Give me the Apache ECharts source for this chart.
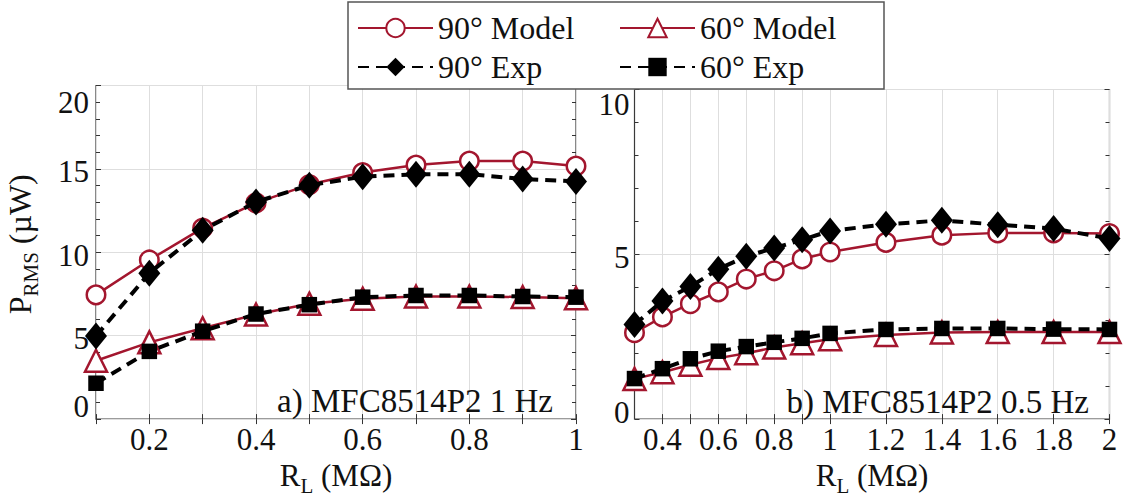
<!DOCTYPE html>
<html><head><meta charset="utf-8">
<script src="https://cdn.jsdelivr.net/npm/echarts@6/dist/echarts.min.js"></script>
<style>html,body{margin:0;padding:0;background:#fff}#c{width:1125px;height:501px}</style>
</head><body><div id="c"></div>
<script>
// ---------- data ----------
const leftX = [0.1, 0.2, 0.3, 0.4, 0.5, 0.6, 0.7, 0.8, 0.9, 1.0];
const left90Model = [7.45, 9.54, 11.45, 12.96, 14.06, 14.78, 15.23, 15.47, 15.47, 15.17];
const left90Exp   = [4.98, 8.75, 11.32, 13.02, 14.02, 14.53, 14.68, 14.68, 14.39, 14.25];
const left60Model = [3.5, 4.6, 5.45, 6.27, 6.92, 7.22, 7.35, 7.35, 7.32, 7.25];
const left60Exp   = [2.15, 4.06, 5.27, 6.3, 6.86, 7.31, 7.41, 7.41, 7.35, 7.31];

const rightX = [0.3, 0.4, 0.5, 0.6, 0.7, 0.8, 0.9, 1.0, 1.2, 1.4, 1.6, 1.8, 2.0];
const right90Model = [2.62, 3.1, 3.5, 3.86, 4.25, 4.5, 4.86, 5.07, 5.36, 5.58, 5.65, 5.65, 5.63];
const right90Exp   = [2.87, 3.58, 4.02, 4.55, 4.94, 5.19, 5.44, 5.71, 5.91, 6.03, 5.9, 5.78, 5.48];
const right60Model = [1.22, 1.42, 1.65, 1.85, 2.0, 2.17, 2.3, 2.42, 2.55, 2.63, 2.64, 2.64, 2.64];
const right60Exp   = [1.23, 1.53, 1.83, 2.06, 2.2, 2.33, 2.45, 2.6, 2.72, 2.75, 2.75, 2.73, 2.72];

const leftXTickLabels = [0.2, 0.4, 0.6, 0.8, 1];
const leftYTickLabels = [0, 5, 10, 15, 20];
const rightXTicks = [0.4, 0.5, 0.6, 0.7, 0.8, 0.9, 1, 1.2, 1.4, 1.6, 1.8, 2];
const rightXTickLabels = [0.4, 0.6, 0.8, 1, 1.2, 1.4, 1.6, 1.8, 2];
const rightYTickLabels = [0, 5, 10];

const seriesNames = ['90° Model', '60° Model', '90° Exp', '60° Exp'];
const panelLabels = ['a) MFC8514P2 1 Hz', 'b) MFC8514P2 0.5 Hz'];

// ---------- styles ----------
const FONT = "'Liberation Serif', 'Times New Roman', 'DejaVu Serif', serif";
const INK = '#111';
const RED = '#A3162E';
const BOX = '#3a3a3a';
const GRIDC = '#dedede';
const TICK = { show: true, inside: true, length: 5, lineStyle: { color: '#333', width: 1 } };
const MINOR = { show: true, splitNumber: 5, length: 4, lineStyle: { color: '#333', width: 1 } };

const pair = (xs, ys) => xs.map((x, i) => [x, ys[i]]);

function nameRich(size, sub) {
  return {
    n: { fontSize: size, fontFamily: FONT, color: INK, verticalAlign: 'bottom', padding: [0, 0, 5, 0] },
    p: { fontSize: size, fontFamily: FONT, color: INK, verticalAlign: 'bottom', padding: [0, 0, 5, 16] },
    s: { fontSize: sub, fontFamily: FONT, color: INK, verticalAlign: 'bottom' }
  };
}

function yLabel(lo, hi, padLo, padHi, vals, margin) {
  return {
    customValues: vals,
    margin: margin,
    formatter: v => v === lo ? '{lo|' + v + '}' : (v === hi ? '{hi|' + v + '}' : '{m|' + v + '}'),
    rich: {
      m: { fontSize: 31, fontFamily: FONT, color: INK, padding: [6, 0, 0, 0] },
      lo: { fontSize: 31, fontFamily: FONT, color: INK, padding: [0, 0, padLo, 0] },
      hi: { fontSize: 31, fontFamily: FONT, color: INK, padding: [padHi, 0, 0, 0] }
    }
  };
}

const xLab = vals => ({ customValues: vals, margin: 5, fontSize: 31, fontFamily: FONT, color: INK,
  formatter: v => String(+(+v).toFixed(2)), showMinLabel: true, showMaxLabel: true });

const off = { show: false };

const grids = [
  { left: 96, top: 85.5, width: 480, height: 341.5 },
  { left: 634.5, top: 89.5, width: 475, height: 337 }
].map(g => Object.assign(g, { show: true, borderColor: BOX, borderWidth: 1.2, backgroundColor: 'rgba(0,0,0,0)' }));

const xName = '{n|R}{s|L}{n| (MΩ)}';
const yName = '{p|P}{s|RMS}{n| (µW)}';

const xAxis = [
  { gridIndex: 0, type: 'value', min: 0.1, max: 1, interval: 0.1, position: 'bottom',
    axisLine: off, axisTick: TICK, axisLabel: xLab(leftXTickLabels),
    splitLine: { show: true, lineStyle: { color: GRIDC, width: 1 } },
    name: xName, nameLocation: 'middle', nameGap: 40, nameTextStyle: { rich: nameRich(31, 21) } },
  { gridIndex: 0, type: 'value', min: 0.1, max: 1, interval: 0.1, position: 'top',
    axisLine: off, axisTick: TICK, axisLabel: off, splitLine: off },
  { gridIndex: 1, type: 'value', min: 0.3, max: 2, position: 'bottom',
    axisLine: off, axisTick: Object.assign({ customValues: rightXTicks }, TICK), axisLabel: xLab(rightXTickLabels),
    splitLine: { show: true, customValues: rightXTicks, lineStyle: { color: GRIDC, width: 1 } },
    name: xName, nameLocation: 'middle', nameGap: 39, nameTextStyle: { rich: nameRich(31, 21) } },
  { gridIndex: 1, type: 'value', min: 0.3, max: 2, position: 'top',
    axisLine: off, axisTick: Object.assign({ customValues: rightXTicks }, TICK), axisLabel: off, splitLine: off }
];

const yAxis = [
  { gridIndex: 0, type: 'value', min: 0, max: 20, interval: 5, position: 'left',
    axisLine: off, axisTick: TICK, minorTick: MINOR, axisLabel: yLabel(0, 20, 26, 34, leftYTickLabels, 7),
    splitLine: { show: true, lineStyle: { color: GRIDC, width: 1 } },
    name: yName, nameLocation: 'middle', nameRotate: 90, nameGap: 55, nameTextStyle: { rich: nameRich(32, 21) } },
  { gridIndex: 0, type: 'value', min: 0, max: 20, interval: 5, position: 'right',
    axisLine: off, axisTick: TICK, minorTick: MINOR, axisLabel: off, splitLine: off },
  { gridIndex: 1, type: 'value', min: 0, max: 10, interval: 5, position: 'left',
    axisLine: off, axisTick: TICK, minorTick: MINOR, axisLabel: yLabel(0, 10, 14, 30, rightYTickLabels, 5),
    splitLine: { show: true, lineStyle: { color: GRIDC, width: 1 } } },
  { gridIndex: 1, type: 'value', min: 0, max: 10, interval: 5, position: 'right',
    axisLine: off, axisTick: TICK, minorTick: MINOR, axisLabel: off, splitLine: off }
];

function modelSeries(name, ai, data, symbol, size) {
  return { name, type: 'line', xAxisIndex: ai, yAxisIndex: ai, data, symbol, symbolSize: size,
    showAllSymbol: true, z: 3,
    lineStyle: { color: RED, width: 2.5 },
    itemStyle: { color: '#fff', borderColor: RED, borderWidth: 2.5 } };
}
function expSeries(name, ai, data, symbol, size) {
  return { name, type: 'line', xAxisIndex: ai, yAxisIndex: ai, data, symbol, symbolSize: size,
    showAllSymbol: true, z: 4,
    lineStyle: { color: '#000', width: 4, type: [11, 7] },
    itemStyle: { color: '#000', borderWidth: 0 } };
}

const series = [
  modelSeries(seriesNames[0], 0, pair(leftX, left90Model), 'circle', 18.5),
  modelSeries(seriesNames[1], 0, pair(leftX, left60Model), 'triangle', 22),
  expSeries(seriesNames[2], 0, pair(leftX, left90Exp), 'diamond', [22, 27]),
  expSeries(seriesNames[3], 0, pair(leftX, left60Exp), 'rect', 15.5),
  modelSeries(seriesNames[0], 2, pair(rightX, right90Model), 'circle', 18.5),
  modelSeries(seriesNames[1], 2, pair(rightX, right60Model), 'triangle', 22),
  expSeries(seriesNames[2], 2, pair(rightX, right90Exp), 'diamond', [22, 27]),
  expSeries(seriesNames[3], 2, pair(rightX, right60Exp), 'rect', 15.5)
];

const legendBase = { orient: 'vertical', top: 7, itemWidth: 75, itemHeight: 23, itemGap: 7,
  selectedMode: false, z: 21,
  textStyle: { fontSize: 32, fontFamily: FONT, color: INK, lineHeight: 30 } };

const option = {
  animation: false,
  backgroundColor: '#fff',
  textStyle: { fontFamily: FONT },
  grid: grids,
  xAxis, yAxis, series,
  legend: [
    Object.assign({ left: 352, data: [seriesNames[0], seriesNames[2]] }, legendBase),
    Object.assign({ left: 614, data: [seriesNames[1], seriesNames[3]] }, legendBase)
  ],
  graphic: [
    { type: 'rect', z: 20, shape: { x: 348, y: 2, width: 536, height: 87 },
      style: { fill: '#fff', stroke: '#555', lineWidth: 1.5 } },
    { type: 'text', z: 20, x: 553, y: 401,
      style: { text: panelLabels[0], fontSize: 33, fontFamily: FONT, fill: INK, align: 'right', verticalAlign: 'middle' } },
    { type: 'text', z: 20, x: 1089, y: 402,
      style: { text: panelLabels[1], fontSize: 33, fontFamily: FONT, fill: INK, align: 'right', verticalAlign: 'middle' } }
  ]
};

const chart = echarts.init(document.getElementById('c'), null, { renderer: 'svg' });
chart.setOption(option);
</script>
</body></html>
